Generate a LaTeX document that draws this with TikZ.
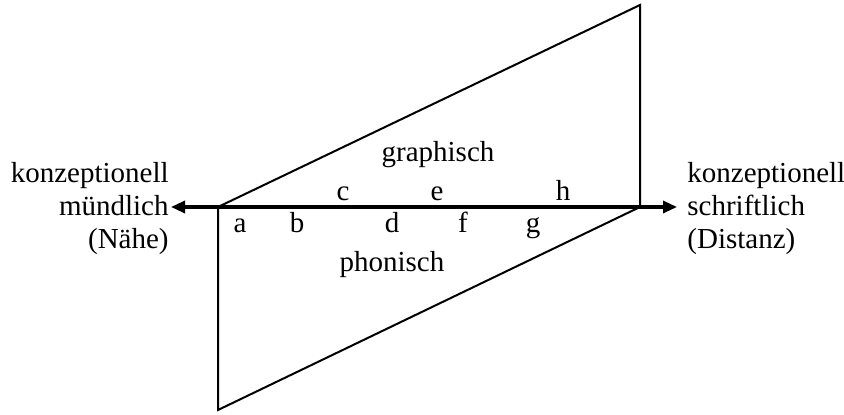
\documentclass[tikz,border=0pt]{standalone}
\usepackage{fontspec}
\setmainfont{Liberation Serif}
\usepackage{tikz}
\usetikzlibrary{arrows.meta, positioning}

\begin{document}
\begin{tikzpicture}[x=0.5pt, y=-0.5pt,
    lbl/.style={font=\fontsize{14.5}{16.5}\selectfont, inner sep=0pt},
    tri/.style={line width=1pt, line join=miter},
    achse/.style={line width=1.6pt, {Triangle[length=7pt,width=6pt]}-{Triangle[length=7pt,width=6pt]}}]
  \useasboundingbox (0,0) rectangle (844,415);
  % corner points of the two triangles
  \coordinate (L) at (218,207);
  \coordinate (R) at (640,207);
  \coordinate (T) at (640,5);
  \coordinate (B) at (218,410);
  % axis ends
  \coordinate (AL) at (171,207);
  \coordinate (AR) at (677,207);
  \draw[tri] (L) -- (T) -- (R);
  \draw[tri] (L) -- (B) -- (R);
  \draw[achse] (AL) -- (AR);
  % labels at both ends
  \node[lbl, anchor=east, align=right] (muend) at (169,209) {konzeptionell\\mündlich\\(Nähe)};
  \node[lbl, anchor=west, align=left] (schrift) at (687,209) {konzeptionell\\schriftlich\\(Distanz)};
  \node[lbl, anchor=base] (graph) at (438,162) {graphisch};
  \node[lbl, anchor=base] (phon) at (392,272) {phonisch};
  % letters above / below the axis (baselines)
  \foreach \n/\x/\y in {a/240/233, b/297/233, c/343/201, d/392/233,
                        e/437/201, f/463/233, g/533/233, h/563/201} {
    \node[lbl, anchor=base] (\n) at (\x,\y) {\n};
  }
\end{tikzpicture}
\end{document}
